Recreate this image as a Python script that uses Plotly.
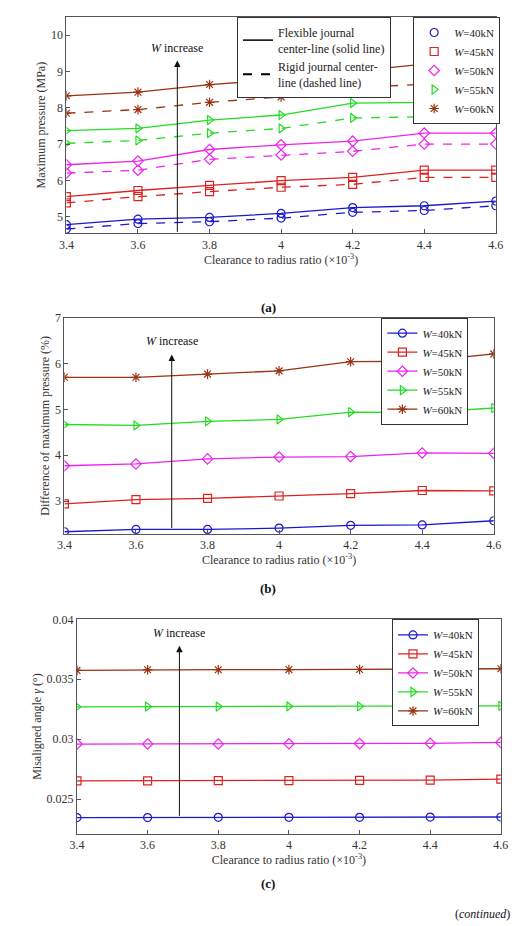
import plotly.graph_objects as go

x = [3.4, 3.6, 3.8, 4.0, 4.2, 4.4, 4.6]
loads = ["40", "45", "50", "55", "60"]
colors = ["#1a1acc", "#dd2222", "#ee22ee", "#22dd22", "#993311"]
symbols = ["circle-open", "square-open", "diamond-open", "triangle-right-open", "asterisk-open"]

a_flex = [
    [4.78, 4.93, 4.98, 5.09, 5.25, 5.30, 5.43],
    [5.55, 5.72, 5.86, 5.99, 6.08, 6.28, 6.28],
    [6.43, 6.53, 6.85, 6.98, 7.08, 7.30, 7.30],
    [7.37, 7.43, 7.66, 7.80, 8.13, 8.15, 8.35],
    [8.33, 8.43, 8.64, 8.78, 9.00, 9.20, 9.48],
]
a_rigid = [
    [4.66, 4.81, 4.86, 4.96, 5.12, 5.17, 5.30],
    [5.38, 5.55, 5.69, 5.81, 5.89, 6.08, 6.08],
    [6.20, 6.28, 6.58, 6.70, 6.80, 7.00, 7.00],
    [7.02, 7.10, 7.30, 7.43, 7.72, 7.75, 7.97],
    [7.85, 7.95, 8.15, 8.30, 8.55, 8.65, 8.90],
]
b_diff = [
    [2.33, 2.38, 2.38, 2.41, 2.47, 2.48, 2.57],
    [2.94, 3.03, 3.06, 3.11, 3.16, 3.23, 3.22],
    [3.77, 3.81, 3.92, 3.96, 3.97, 4.05, 4.04],
    [4.67, 4.65, 4.74, 4.78, 4.94, 4.93, 5.03],
    [5.70, 5.70, 5.77, 5.84, 6.04, 6.05, 6.21],
]
c_angle = [
    [0.02345, 0.02345, 0.02347, 0.02347, 0.02347, 0.02349, 0.02350],
    [0.02652, 0.02652, 0.02653, 0.02654, 0.02656, 0.02658, 0.02666],
    [0.02959, 0.02960, 0.02960, 0.02961, 0.02963, 0.02965, 0.02973],
    [0.03270, 0.03272, 0.03272, 0.03273, 0.03274, 0.03275, 0.03278],
    [0.03574, 0.03580, 0.03580, 0.03581, 0.03582, 0.03584, 0.03588],
]

F = "Liberation Serif"
fig = go.Figure()
mk = dict(size=8, line=dict(width=1.2))

for i in range(5):
    m = dict(mk, symbol=symbols[i], color=colors[i])
    fig.add_trace(go.Scatter(x=x, y=a_flex[i], mode="lines+markers", line=dict(color=colors[i], width=1.3),
                             marker=m, showlegend=False, xaxis="x", yaxis="y"))
    fig.add_trace(go.Scatter(x=x, y=a_rigid[i], mode="lines+markers", line=dict(color=colors[i], width=1.3, dash="dash"),
                             marker=m, showlegend=False, xaxis="x", yaxis="y"))
    fig.add_trace(go.Scatter(x=[None], y=[None], mode="markers", marker=m, name=f"<i>W</i>={loads[i]}kN",
                             legend="legend2", xaxis="x", yaxis="y"))
fig.add_trace(go.Scatter(x=[None], y=[None], mode="lines", line=dict(color="black", width=1.5),
                         name="Flexible journal<br>center-line (solid line)", legend="legend", xaxis="x", yaxis="y"))
fig.add_trace(go.Scatter(x=[None], y=[None], mode="lines", line=dict(color="black", width=2, dash="dash"),
                         name="Rigid journal center-<br>line (dashed line)", legend="legend", xaxis="x", yaxis="y"))

for i in range(5):
    m = dict(mk, symbol=symbols[i], color=colors[i])
    fig.add_trace(go.Scatter(x=x, y=b_diff[i], mode="lines+markers", line=dict(color=colors[i], width=1.3),
                             marker=m, name=f"<i>W</i>={loads[i]}kN", legend="legend3", xaxis="x2", yaxis="y2"))
for i in range(5):
    m = dict(mk, symbol=symbols[i], color=colors[i])
    fig.add_trace(go.Scatter(x=x, y=c_angle[i], mode="lines+markers", line=dict(color=colors[i], width=1.3),
                             marker=m, name=f"<i>W</i>={loads[i]}kN", legend="legend4", xaxis="x3", yaxis="y3"))

ax_common = dict(showline=True, linecolor="#555", linewidth=1, mirror=True, ticks="inside", ticklen=4,
                 tickcolor="#555", showgrid=False, zeroline=False, tickfont=dict(family=F, size=12, color="#333"))
xtitle = dict(text="Clearance to radius ratio (×10<sup>-3</sup>)", font=dict(family=F, size=12, color="#333"), standoff=4)
xt = dict(tickvals=x, ticktext=["3.4", "3.6", "3.8", "4", "4.2", "4.4", "4.6"], range=[3.4, 4.6])

def legbox(xp, yp, size=11):
    return dict(x=xp, y=yp, xanchor="left", yanchor="top", bgcolor="white", bordercolor="#333", borderwidth=1,
                font=dict(family=F, size=size, color="#222"), tracegroupgap=0, itemwidth=30)

fig.update_layout(
    width=520, height=926, margin=dict(l=0, r=0, t=0, b=0), paper_bgcolor="white", plot_bgcolor="white",
    xaxis=dict(ax_common, domain=[0.1, 0.952], anchor="y", title=xtitle, **xt),
    yaxis=dict(ax_common, domain=[0.7624, 0.9978], anchor="x", range=[4.54, 10.5], tickvals=[5, 6, 7, 8, 9, 10],
               title=dict(text="Maximum pressure (MPa)", font=dict(family=F, size=12, color="#333"), standoff=2)),
    xaxis2=dict(ax_common, domain=[0.096, 0.948], anchor="y2", title=xtitle, **xt),
    yaxis2=dict(ax_common, domain=[0.4352, 0.6706], anchor="x2", range=[2.28, 7], tickvals=[3, 4, 5, 6, 7],
                title=dict(text="Difference of maximum pressure (%)", font=dict(family=F, size=12, color="#333"), standoff=2)),
    xaxis3=dict(ax_common, domain=[0.121, 0.962], anchor="y3", title=xtitle, **xt),
    yaxis3=dict(ax_common, domain=[0.1091, 0.3423], anchor="x3", range=[0.0221, 0.04],
                tickvals=[0.025, 0.03, 0.035, 0.04], ticktext=["0.025", "0.03", "0.035", "0.04"],
                title=dict(text="Misaligned angle <i>γ</i> (°)", font=dict(family=F, size=12, color="#333"), standoff=2)),
    legend=legbox(0.4385, 0.9978, 12),
    legend2=legbox(0.788, 0.9978),
    legend3=legbox(0.725, 0.6706),
    legend4=legbox(0.746, 0.3423),
)

ann = []
for xr, yr, x0, y0, y1 in [("x", "y", 3.71, 4.54, 9.3), ("x2", "y2", 3.70, 2.38, 6.2), ("x3", "y3", 3.69, 0.02347, 0.0378)]:
    ann.append(dict(x=x0, y=y1, ax=x0, ay=y0, xref=xr, yref=yr, axref=xr, ayref=yr, showarrow=True,
                    arrowhead=2, arrowsize=1.3, arrowwidth=1, arrowcolor="#111", text=""))
    ann.append(dict(x=x0, y=y1, xref=xr, yref=yr, text="<i>W</i> increase", showarrow=False, yanchor="bottom",
                    yshift=4, font=dict(family=F, size=12, color="#111")))
for t, yp in [("<b>(a)</b>", 1 - 285 / 926), ("<b>(b)</b>", 1 - 578 / 926), ("<b>(c)</b>", 1 - 885 / 926)]:
    ann.append(dict(x=0.5, y=yp, xref="paper", yref="paper", text=t, showarrow=False,
                    font=dict(family=F, size=13, color="#111")))
ann.append(dict(x=0.985, y=1 - 915 / 926, xref="paper", yref="paper", xanchor="right", text="(<i>continued</i>)",
                showarrow=False, font=dict(family=F, size=12, color="#111")))
fig.update_layout(annotations=ann)

fig.write_html("out.html")
